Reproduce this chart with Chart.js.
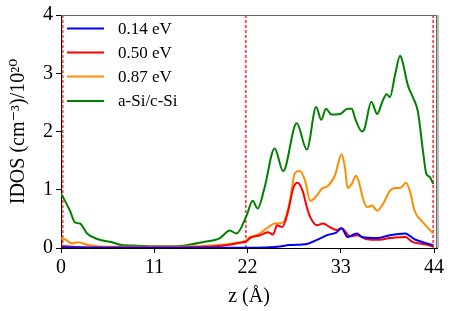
<!DOCTYPE html>
<html>
<head>
<meta charset="utf-8">
<script src="https://cdn.jsdelivr.net/npm/chart.js@4/dist/chart.umd.min.js"></script>
<style>
  html, body { margin: 0; padding: 0; background: #fff; }
  #wrap { width: 452px; height: 311px; }
</style>
</head>
<body>
<div id="wrap"><canvas id="idos" width="452" height="311"></canvas></div>
<script>
// IDOS profiles along z
var xTicks = [0, 11, 22, 33, 44];
var yTicks = [0, 1, 2, 3, 4];
var interfaces = [0.2, 21.8, 43.9];

var zBlue = [0, 5, 10, 15, 20, 24, 25.5, 27, 29, 30.2, 31.4, 32.5, 33.1, 33.8, 34.9, 35.5, 37.3, 38.8, 40.6, 41.7, 43.9];
var blueVals = [0.01, 0.005, 0.005, 0.005, 0.005, 0.01, 0.02, 0.05, 0.07, 0.14, 0.22, 0.27, 0.34, 0.19, 0.25, 0.19, 0.17, 0.22, 0.25, 0.15, 0.05];

var zRed = [0, 0.5, 1.5, 3, 6, 10, 14, 17, 19, 21.1, 21.9, 22.3, 23.5, 24.4, 25, 25.5, 26.1, 26.8, 27.4, 27.9, 28.5, 29, 29.4, 30.2, 30.9, 31.7, 32.5, 33.1, 34.1, 34.9, 36.1, 37.3, 38.8, 40.6, 41.5, 42.7, 43.9];
var redVals = [0.04, 0.03, 0.02, 0.01, 0.01, 0.01, 0.01, 0.02, 0.04, 0.09, 0.12, 0.17, 0.22, 0.27, 0.23, 0.39, 0.36, 0.64, 1.03, 1.12, 0.98, 0.7, 0.53, 0.39, 0.42, 0.36, 0.31, 0.34, 0.2, 0.22, 0.15, 0.14, 0.17, 0.19, 0.1, 0.07, 0.03];

var zOrange = [0, 0.47, 1.3, 2, 3.2, 5.2, 8, 12, 16, 18.75, 21.1, 21.9, 22.3, 23.1, 24.3, 25.2, 26.2, 27, 27.6, 28.2, 28.8, 29.4, 30, 30.8, 31.5, 32.3, 33.1, 33.5, 33.8, 34.3, 34.8, 35.1, 35.6, 36.1, 36.7, 37.3, 38, 38.8, 39.4, 40, 40.7, 41.2, 41.7, 42.7, 43.9];
var orangeVals = [0.17, 0.15, 0.08, 0.1, 0.05, 0.02, 0.02, 0.02, 0.03, 0.05, 0.1, 0.13, 0.19, 0.22, 0.34, 0.42, 0.44, 0.81, 1.29, 1.32, 1.15, 0.81, 0.87, 1.02, 1.07, 1.24, 1.61, 1.37, 1.03, 1.1, 1.24, 1.15, 0.86, 0.7, 0.73, 0.64, 0.76, 0.98, 1.03, 1.03, 1.12, 0.95, 0.64, 0.44, 0.25];

var zGreen = [0, 0.5, 1.06, 1.65, 2.24, 3.07, 4.36, 6, 7.2, 9, 11, 13, 14.4, 16.7, 18.75, 19.9, 20.7, 21.9, 22.6, 23.2, 24, 25.2, 26.2, 27.8, 29, 30.1, 30.7, 31.25, 31.9, 32.9, 33.8, 34.3, 34.7, 35.5, 35.8, 36.6, 37.3, 37.9, 38.4, 38.8, 39.4, 40, 40.3, 40.9, 41.5, 42.1, 42.7, 43.1, 43.5, 43.9];
var greenVals = [0.93, 0.8, 0.64, 0.44, 0.42, 0.25, 0.15, 0.1, 0.05, 0.04, 0.03, 0.03, 0.04, 0.1, 0.17, 0.3, 0.25, 0.56, 0.81, 0.68, 1.03, 1.71, 1.32, 2.14, 1.69, 2.42, 2.2, 2.39, 2.29, 2.3, 2.39, 2.39, 2.22, 2.0, 2.05, 2.51, 2.3, 2.51, 2.64, 2.59, 2.97, 3.3, 3.19, 2.8, 2.59, 2.34, 1.66, 1.27, 1.22, 1.1];

function pts(xs, ys) {
  return xs.map(function (x, i) { return { x: x, y: ys[i] }; });
}

var serif = "'Liberation Serif', 'DejaVu Serif', serif";

function curve(label, xs, ys, color) {
  return {
    label: label, data: pts(xs, ys), borderColor: color, backgroundColor: color,
    borderWidth: 2, pointRadius: 0, cubicInterpolationMode: 'monotone', fill: false
  };
}

var datasets = [
  curve('0.14 eV', zBlue, blueVals, '#0000ff'),
  curve('0.50 eV', zRed, redVals, '#ff0000'),
  curve('0.87 eV', zOrange, orangeVals, '#ff8c00'),
  curve('a-Si/c-Si', zGreen, greenVals, '#008000')
];

// dashed interface markers
interfaces.forEach(function (z) {
  datasets.push({
    label: '', data: [{ x: z, y: 0 }, { x: z, y: 4 }], borderColor: 'rgba(255,40,40,0.85)',
    borderWidth: 1.8, borderDash: [3, 2], pointRadius: 0, fill: false, isMarker: true
  });
});

// top/right frame + legend inside the plot
var framePlugin = {
  id: 'frame',
  afterDraw: function (chart) {
    var a = chart.chartArea, c = chart.ctx;
    c.save();
    c.strokeStyle = '#666';
    c.lineWidth = 1;
    c.beginPath();
    c.moveTo(a.left, a.top + 0.5);
    c.lineTo(a.right - 0.5, a.top + 0.5);
    c.lineTo(a.right - 0.5, a.bottom);
    c.stroke();
    c.strokeStyle = '#bbb';
    c.lineWidth = 2;
    c.beginPath();
    c.moveTo(a.right + 1, a.top);
    c.lineTo(a.right + 1, a.bottom);
    c.stroke();

    // legend
    c.font = '17px ' + serif;
    c.textBaseline = 'middle';
    c.fillStyle = '#000';
    var rowY = [28.5, 52.5, 76.5, 101];
    chart.data.datasets.forEach(function (ds, i) {
      if (ds.isMarker) return;
      var y = rowY[i];
      c.strokeStyle = ds.borderColor;
      c.lineWidth = 2;
      c.beginPath();
      c.moveTo(a.left + 6, y);
      c.lineTo(a.left + 43, y);
      c.stroke();
      c.fillText(ds.label, a.left + 57, y + 1);
    });
    c.restore();
  }
};

new Chart(document.getElementById('idos'), {
  type: 'line',
  data: { datasets: datasets },
  plugins: [framePlugin],
  options: {
    responsive: false, animation: false, maintainAspectRatio: false,
    layout: { padding: { top: 12, right: 15, left: 0, bottom: 0 } },
    plugins: {
      tooltip: { enabled: false },
      legend: { display: false }
    },
    scales: {
      x: {
        type: 'linear', min: 0, max: 44.35,
        afterBuildTicks: function (s) { s.ticks = xTicks.map(function (v) { return { value: v }; }); },
        afterFit: function (s) { s.height = 63; },
        grid: { drawOnChartArea: false, drawTicks: true, tickLength: 5, color: '#000' },
        border: { display: true, color: '#000', width: 1 },
        ticks: { color: '#000', font: { family: serif, size: 20 }, padding: 3, maxRotation: 0 },
        title: { display: true, text: 'z (Å)', color: '#000', font: { family: serif, size: 20 }, padding: { top: 0, bottom: 2 } }
      },
      y: {
        type: 'linear', min: 0, max: 4,
        afterBuildTicks: function (s) { s.ticks = yTicks.map(function (v) { return { value: v }; }); },
        afterFit: function (s) { s.width = 61; },
        grid: { drawOnChartArea: false, drawTicks: true, tickLength: 5, color: '#000' },
        border: { display: true, color: '#000', width: 1 },
        ticks: { color: '#000', font: { family: serif, size: 20 }, padding: 3 },
        title: { display: true, text: 'IDOS (cm⁻³)/10²⁰', color: '#000', font: { family: serif, size: 20 }, padding: { top: 7, bottom: 0 } }
      }
    }
  }
});
</script>
</body>
</html>
